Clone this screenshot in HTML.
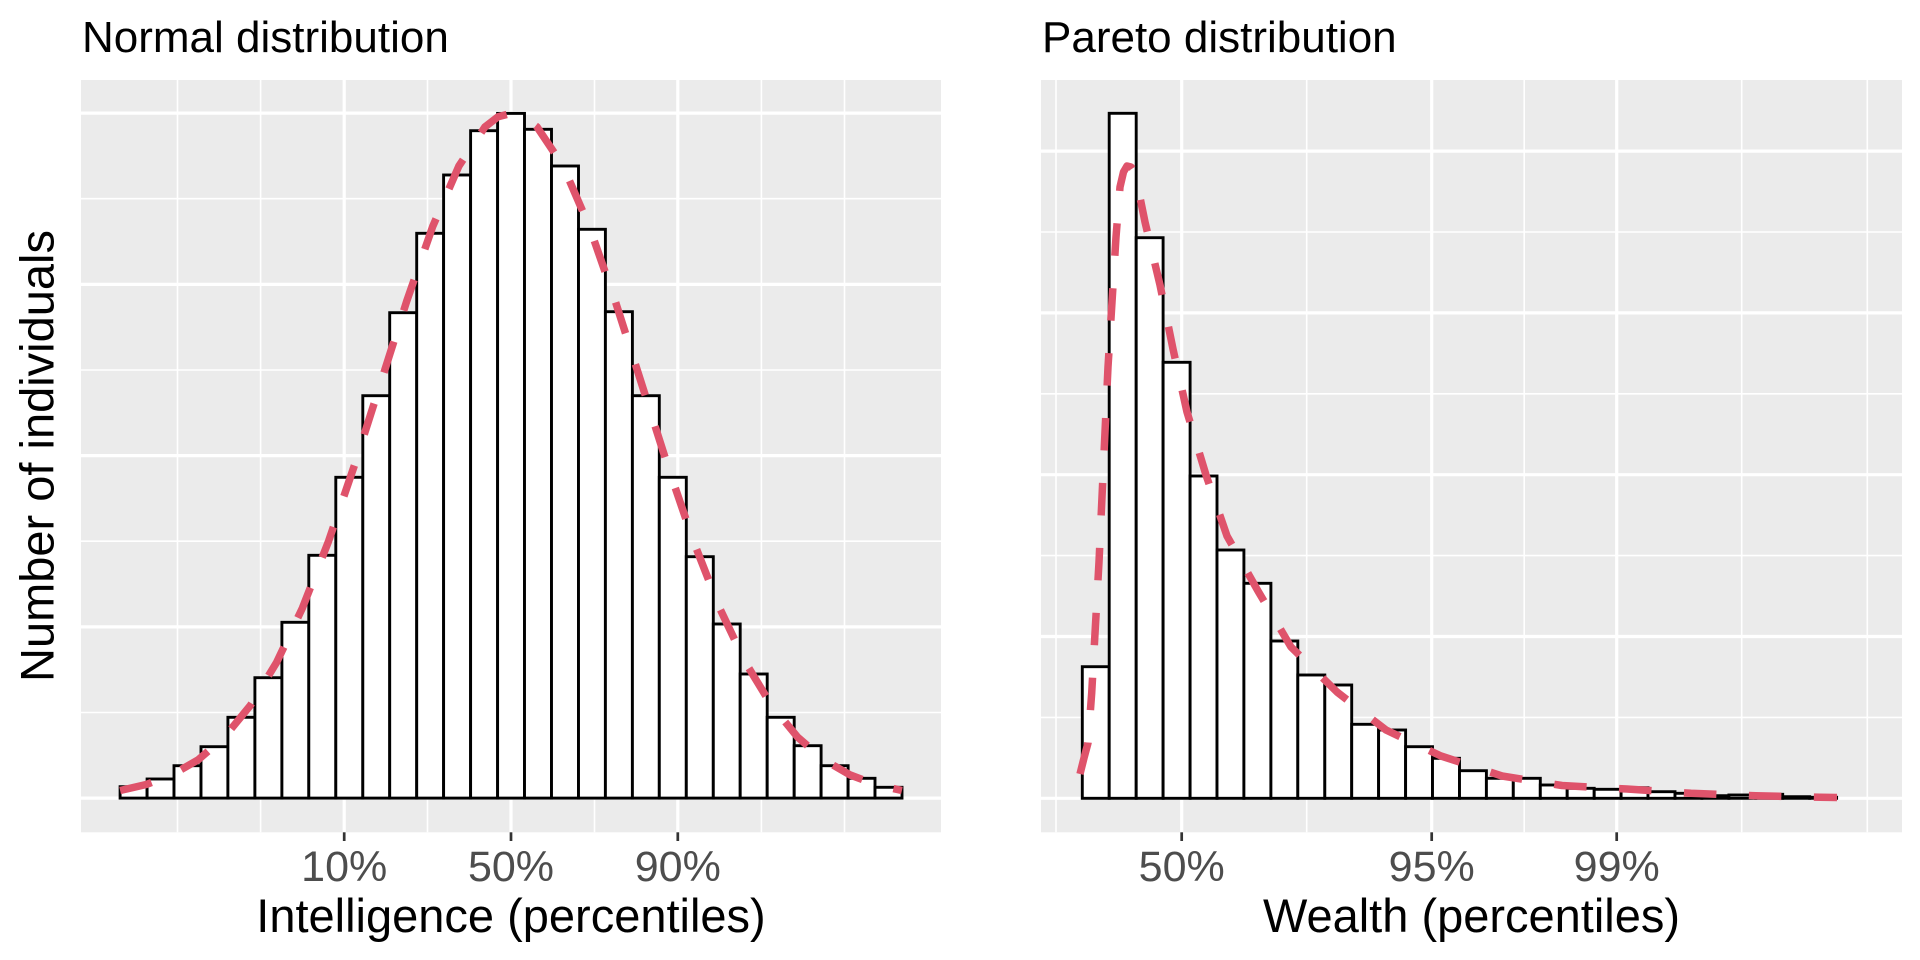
<!DOCTYPE html>
<html>
<head>
<meta charset="utf-8">
<style>
  html, body { margin: 0; padding: 0; background: #ffffff; }
  svg { display: block; }
  text { font-family: "Liberation Sans", Arial, sans-serif; }
</style>
</head>
<body>
<svg width="1920" height="960" viewBox="0 0 1920 960" xmlns="http://www.w3.org/2000/svg">
  <rect x="0" y="0" width="1920" height="960" fill="#ffffff"/>

  <!-- Titles -->
  <text x="82" y="52" font-size="44" fill="#000000">Normal distribution</text>
  <text x="1042" y="52" font-size="44" fill="#000000">Pareto distribution</text>

  <!-- ================= LEFT PANEL ================= -->
  <rect x="81" y="80" width="860" height="752.3" fill="#EBEBEB"/>
  <g stroke="#ffffff" stroke-width="1.6">
    <line x1="81" x2="941" y1="712.5" y2="712.5"/>
    <line x1="81" x2="941" y1="541.2" y2="541.2"/>
    <line x1="81" x2="941" y1="370.0" y2="370.0"/>
    <line x1="81" x2="941" y1="198.7" y2="198.7"/>
    <line y1="80" y2="832.3" x1="177.5" x2="177.5"/>
    <line y1="80" y2="832.3" x1="260.6" x2="260.6"/>
    <line y1="80" y2="832.3" x1="427.5" x2="427.5"/>
    <line y1="80" y2="832.3" x1="594.5" x2="594.5"/>
    <line y1="80" y2="832.3" x1="761.4" x2="761.4"/>
    <line y1="80" y2="832.3" x1="844.5" x2="844.5"/>
  </g>
  <g stroke="#ffffff" stroke-width="3.2">
    <line x1="81" x2="941" y1="798.1" y2="798.1"/>
    <line x1="81" x2="941" y1="626.9" y2="626.9"/>
    <line x1="81" x2="941" y1="455.6" y2="455.6"/>
    <line x1="81" x2="941" y1="284.4" y2="284.4"/>
    <line x1="81" x2="941" y1="113.1" y2="113.1"/>
    <line y1="80" y2="832.3" x1="344.2" x2="344.2"/>
    <line y1="80" y2="832.3" x1="511" x2="511"/>
    <line y1="80" y2="832.3" x1="677.8" x2="677.8"/>
  </g>

  <!-- left bars -->
  <g fill="#ffffff" stroke="#000000" stroke-width="2.9">
    <rect x="120.1" y="786.7" width="27.0" height="11.4"/>
    <rect x="147.1" y="779.0" width="26.9" height="19.1"/>
    <rect x="174.0" y="765.7" width="27.0" height="32.4"/>
    <rect x="201.0" y="746.7" width="26.9" height="51.4"/>
    <rect x="227.9" y="717.3" width="27.0" height="80.8"/>
    <rect x="254.9" y="677.7" width="27.0" height="120.4"/>
    <rect x="281.9" y="622.3" width="26.9" height="175.8"/>
    <rect x="308.8" y="555.3" width="27.0" height="242.8"/>
    <rect x="335.8" y="477.3" width="27.0" height="320.8"/>
    <rect x="362.8" y="395.7" width="26.9" height="402.4"/>
    <rect x="389.7" y="312.7" width="27.0" height="485.4"/>
    <rect x="416.7" y="233.3" width="26.9" height="564.8"/>
    <rect x="443.6" y="175.0" width="27.0" height="623.1"/>
    <rect x="470.6" y="130.7" width="27.0" height="667.4"/>
    <rect x="497.6" y="113.4" width="26.9" height="684.7"/>
    <rect x="524.5" y="129.3" width="27.0" height="668.8"/>
    <rect x="551.5" y="166.0" width="27.0" height="632.1"/>
    <rect x="578.5" y="229.3" width="26.9" height="568.8"/>
    <rect x="605.4" y="311.7" width="27.0" height="486.4"/>
    <rect x="632.4" y="395.7" width="26.9" height="402.4"/>
    <rect x="659.3" y="477.3" width="27.0" height="320.8"/>
    <rect x="686.3" y="556.7" width="27.0" height="241.4"/>
    <rect x="713.3" y="624.0" width="26.9" height="174.1"/>
    <rect x="740.2" y="674.0" width="27.0" height="124.1"/>
    <rect x="767.2" y="717.3" width="27.0" height="80.8"/>
    <rect x="794.2" y="745.7" width="26.9" height="52.4"/>
    <rect x="821.1" y="765.7" width="27.0" height="32.4"/>
    <rect x="848.1" y="778.3" width="26.9" height="19.8"/>
    <rect x="875.0" y="787.3" width="27.0" height="10.8"/>
  </g>

  <!-- left density curve -->
  <polyline fill="none" stroke="#DF536B" stroke-width="7.5" stroke-dasharray="32.5 32.5" stroke-linecap="butt" stroke-linejoin="round"
    points="120.1,790.5 146.2,784.5 172.2,774.8 198.3,759.7 224.3,737.2 250.4,705.4 276.5,662.6 302.5,607.8 328.6,541.1 354.6,464.8 380.7,382.8 406.8,300.9 432.8,226.2 458.9,166.0 484.9,127.0 498.0,116.8 511,113.4 524.0,116.8 537.1,127.0 563.1,166.0 589.2,226.2 615.2,300.9 641.3,382.8 667.4,464.8 693.4,541.1 719.5,607.8 745.5,662.6 771.6,705.4 797.7,737.2 823.7,759.7 849.8,774.8 875.8,784.5 901.9,790.5"/>

  <!-- left ticks -->
  <g stroke="#333333" stroke-width="2.7">
    <line x1="344.2" x2="344.2" y1="832.3" y2="841"/>
    <line x1="511" x2="511" y1="832.3" y2="841"/>
    <line x1="677.8" x2="677.8" y1="832.3" y2="841"/>
  </g>
  <g font-size="43" fill="#4D4D4D" text-anchor="middle">
    <text x="344.2" y="881">10%</text>
    <text x="511" y="881">50%</text>
    <text x="677.8" y="881">90%</text>
  </g>
  <text x="511" y="932" font-size="47" fill="#000000" text-anchor="middle">Intelligence (percentiles)</text>
  <text transform="translate(53.5,456) rotate(-90)" font-size="47" fill="#000000" text-anchor="middle">Number of individuals</text>

  <!-- ================= RIGHT PANEL ================= -->
  <rect x="1041" y="80" width="861" height="752.3" fill="#EBEBEB"/>
  <g stroke="#ffffff" stroke-width="1.6">
    <line x1="1041" x2="1902" y1="717.4" y2="717.4"/>
    <line x1="1041" x2="1902" y1="555.6" y2="555.6"/>
    <line x1="1041" x2="1902" y1="393.8" y2="393.8"/>
    <line x1="1041" x2="1902" y1="232.0" y2="232.0"/>
    <line y1="80" y2="832.3" x1="1056" x2="1056"/>
    <line y1="80" y2="832.3" x1="1306.7" x2="1306.7"/>
    <line y1="80" y2="832.3" x1="1524.2" x2="1524.2"/>
    <line y1="80" y2="832.3" x1="1741.7" x2="1741.7"/>
    <line y1="80" y2="832.3" x1="1867.3" x2="1867.3"/>
  </g>
  <g stroke="#ffffff" stroke-width="3.2">
    <line x1="1041" x2="1902" y1="798.3" y2="798.3"/>
    <line x1="1041" x2="1902" y1="636.5" y2="636.5"/>
    <line x1="1041" x2="1902" y1="474.7" y2="474.7"/>
    <line x1="1041" x2="1902" y1="312.9" y2="312.9"/>
    <line x1="1041" x2="1902" y1="151.1" y2="151.1"/>
    <line y1="80" y2="832.3" x1="1181.7" x2="1181.7"/>
    <line y1="80" y2="832.3" x1="1431.7" x2="1431.7"/>
    <line y1="80" y2="832.3" x1="1616.7" x2="1616.7"/>
  </g>

  <!-- right bars -->
  <g fill="#ffffff" stroke="#000000" stroke-width="2.9">
    <rect x="1082.3" y="666.7" width="26.9" height="131.6"/>
    <rect x="1109.2" y="113.3" width="27.0" height="685.0"/>
    <rect x="1136.2" y="237.7" width="26.9" height="560.6"/>
    <rect x="1163.1" y="362.3" width="27.0" height="436.0"/>
    <rect x="1190.1" y="476.0" width="26.9" height="322.3"/>
    <rect x="1217.0" y="550.0" width="26.9" height="248.3"/>
    <rect x="1243.9" y="583.3" width="27.0" height="215.0"/>
    <rect x="1270.9" y="641.0" width="26.9" height="157.3"/>
    <rect x="1297.8" y="675.0" width="27.0" height="123.3"/>
    <rect x="1324.8" y="685.0" width="26.9" height="113.3"/>
    <rect x="1351.7" y="724.3" width="26.9" height="74.0"/>
    <rect x="1378.6" y="730.0" width="27.0" height="68.3"/>
    <rect x="1405.6" y="746.7" width="26.9" height="51.6"/>
    <rect x="1432.5" y="758.3" width="27.0" height="40.0"/>
    <rect x="1459.5" y="770.7" width="26.9" height="27.6"/>
    <rect x="1486.4" y="778.3" width="26.9" height="20.0"/>
    <rect x="1513.3" y="778.3" width="27.0" height="20.0"/>
    <rect x="1540.3" y="785.0" width="26.9" height="13.3"/>
    <rect x="1567.2" y="788.3" width="27.0" height="10.0"/>
    <rect x="1594.2" y="789.3" width="26.9" height="9.0"/>
    <rect x="1621.1" y="787.7" width="26.9" height="10.6"/>
    <rect x="1648.0" y="791.7" width="27.0" height="6.6"/>
    <rect x="1675.0" y="793.3" width="26.9" height="5.0"/>
    <rect x="1701.9" y="795.7" width="27.0" height="2.6"/>
    <rect x="1728.9" y="795.0" width="26.9" height="3.3"/>
    <rect x="1755.8" y="794.3" width="26.9" height="4.0"/>
    <rect x="1782.7" y="796.7" width="27.0" height="1.6"/>
    <rect x="1809.7" y="797.3" width="26.9" height="1.0"/>
  </g>

  <!-- right density curve -->
  <polyline fill="none" stroke="#DF536B" stroke-width="7.5" stroke-dasharray="32.5 32.5" stroke-linecap="butt" stroke-linejoin="round"
    points="1080,774 1084,758 1088,743 1091.7,693 1095.3,628 1099,562 1102,497 1105,432 1108,367 1112,302 1116,237 1120,187 1123.5,172 1127,166 1131,167 1135,173 1145,222 1160,285 1173,349 1187,412 1206,475 1227,536 1258,591 1291,647 1337,692 1386,730 1441,756 1502,776 1562,785.5 1627,789 1691,793.3 1756,795.7 1820,797.3 1837,797.5"/>

  <!-- right ticks -->
  <g stroke="#333333" stroke-width="2.7">
    <line x1="1181.7" x2="1181.7" y1="832.3" y2="841"/>
    <line x1="1431.7" x2="1431.7" y1="832.3" y2="841"/>
    <line x1="1616.7" x2="1616.7" y1="832.3" y2="841"/>
  </g>
  <g font-size="43" fill="#4D4D4D" text-anchor="middle">
    <text x="1181.7" y="881">50%</text>
    <text x="1431.7" y="881">95%</text>
    <text x="1616.7" y="881">99%</text>
  </g>
  <text x="1471.5" y="932" font-size="47" fill="#000000" text-anchor="middle">Wealth (percentiles)</text>
</svg>
</body>
</html>
